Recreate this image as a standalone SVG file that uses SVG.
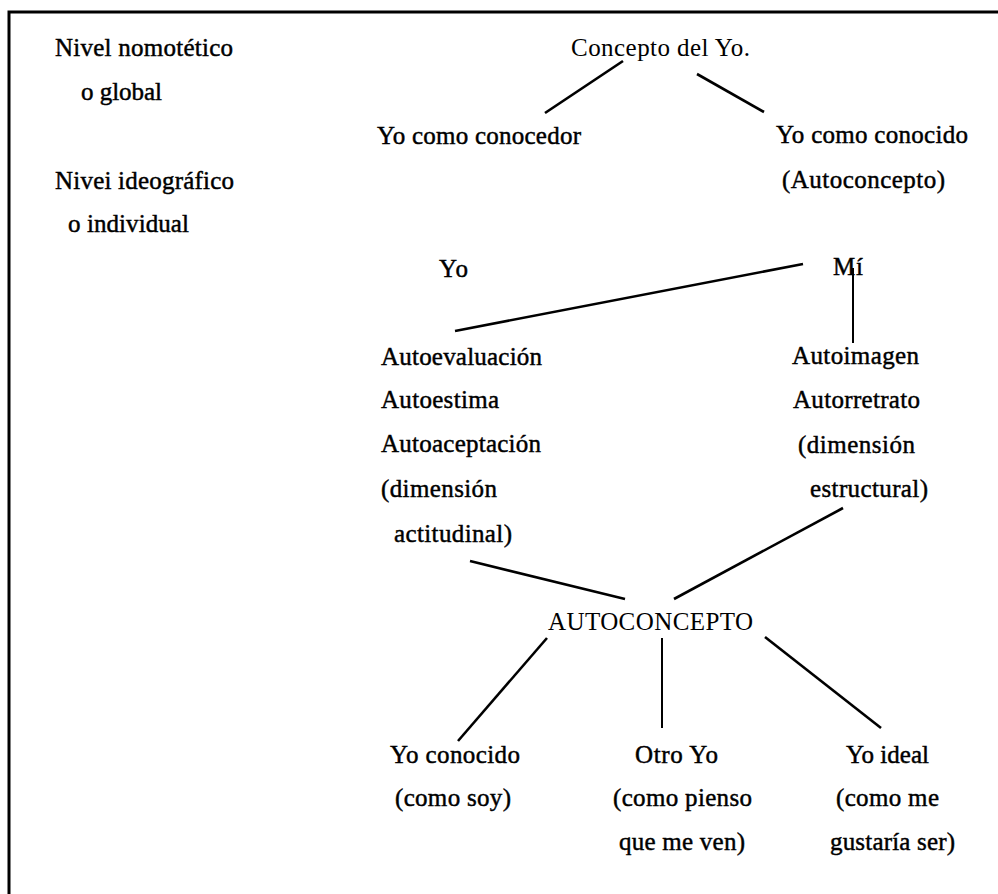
<svg xmlns="http://www.w3.org/2000/svg" width="998" height="894" viewBox="0 0 998 894">
<style>
text{font-family:"Liberation Serif","Times New Roman",serif;font-size:25px;fill:#000}
.h{stroke:#000;stroke-width:0.45}
.c line{stroke:#000;stroke-width:2.6;stroke-linecap:butt}
.c line.v{stroke-width:2}
.frame{stroke:#000;stroke-width:3;fill:none}
</style>
<rect width="998" height="894" fill="#fff"/>
<path class="frame" d="M9,894 L9,12 L998,12"/>
<g id="levels">
<text class="h" x="55" y="56" textLength="178">Nivel nomotético</text>
<text class="h" x="81" y="100" textLength="81">o global</text>
<text class="h" x="55" y="189" textLength="179">Nivei ideográfico</text>
<text class="h" x="68" y="232" textLength="121">o individual</text>
</g>
<g id="n-concepto"><text x="571" y="56" textLength="179">Concepto del Yo.</text></g>
<g id="n-conocedor"><text class="h" x="377" y="144" textLength="204">Yo como conocedor</text></g>
<g id="n-conocido"><text class="h" x="776" y="143" textLength="192">Yo como conocido</text><text class="h" x="782" y="188" textLength="163">(Autoconcepto)</text></g>
<g id="n-yo"><text class="h" x="439" y="277" textLength="29">Yo</text></g>
<g id="n-mi"><text class="h" x="833" y="275" textLength="30">Mí</text></g>
<g id="n-autoevaluacion">
<text class="h" x="381" y="365" textLength="161">Autoevaluación</text>
<text class="h" x="381" y="408" textLength="118">Autoestima</text>
<text class="h" x="381" y="452" textLength="160">Autoaceptación</text>
<text class="h" x="381" y="497" textLength="116">(dimensión</text>
<text class="h" x="394" y="542" textLength="118">actitudinal)</text>
</g>
<g id="n-autoimagen">
<text class="h" x="792" y="364" textLength="127">Autoimagen</text>
<text class="h" x="793" y="408" textLength="127">Autorretrato</text>
<text class="h" x="798" y="453" textLength="117">(dimensión</text>
<text class="h" x="810" y="497" textLength="118">estructural)</text>
</g>
<g id="n-autoconcepto"><text x="548" y="630" textLength="205">AUTOCONCEPTO</text></g>
<g id="n-yoconocido">
<text class="h" x="390" y="763" textLength="130">Yo conocido</text>
<text class="h" x="395" y="806" textLength="116">(como soy)</text>
</g>
<g id="n-otroyo">
<text class="h" x="635" y="763" textLength="83">Otro Yo</text>
<text class="h" x="613" y="806" textLength="139">(como pienso</text>
<text class="h" x="619" y="850" textLength="126">que me ven)</text>
</g>
<g id="n-yoideal">
<text class="h" x="846" y="763" textLength="83">Yo ideal</text>
<text class="h" x="836" y="806" textLength="103">(como me</text>
<text class="h" x="830" y="850" textLength="125">gustaría ser)</text>
</g>
<g id="connectors" class="c">
<line x1="623" y1="61" x2="545" y2="113"/>
<line x1="697" y1="74" x2="764" y2="112"/>
<line x1="803" y1="264" x2="455" y2="331"/>
<line class="v" x1="853" y1="268" x2="853" y2="343"/>
<line x1="470" y1="561" x2="625" y2="599"/>
<line x1="843" y1="508" x2="674" y2="599"/>
<line x1="547" y1="638" x2="458" y2="741"/>
<line class="v" x1="662" y1="638" x2="662" y2="728"/>
<line x1="765" y1="637" x2="881" y2="728"/>
</g>
</svg>
